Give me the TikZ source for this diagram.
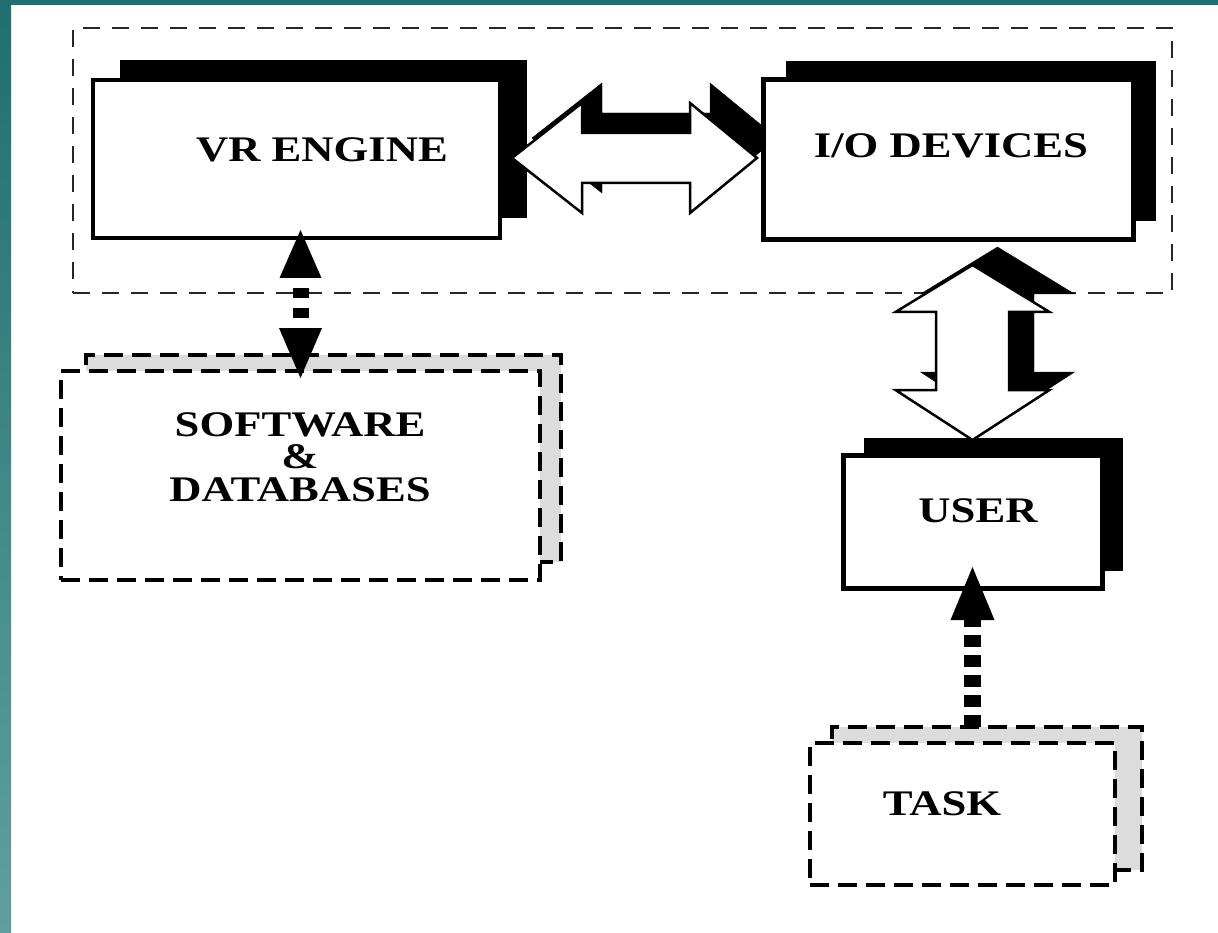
\documentclass[tikz,border=0pt]{standalone}
\usepackage{fontspec}
\newfontfamily\lblfont[FakeStretch=1.24]{Liberation Serif}
\usetikzlibrary{calc,arrows.meta}
\definecolor{tealA}{HTML}{1F6F6F}
\definecolor{tealB}{HTML}{5FA09E}
\definecolor{shgray}{HTML}{DCDCDC}
\begin{document}
\begin{tikzpicture}[x=1pt,y=-1pt,
  solidbox/.style={draw=black, fill=white, line width=4.5pt, inner sep=0pt, outer sep=0pt},
  blackshadow/.style={fill=black, inner sep=0pt, outer sep=0pt},
  dashbox/.style={draw=black, fill=white, line width=4pt, dash pattern=on 19pt off 9pt, inner sep=0pt, outer sep=0pt},
  grayshadow/.style={draw=black, fill=shgray, line width=4pt, dash pattern=on 19pt off 9pt, inner sep=0pt, outer sep=0pt},
  sysbox/.style={draw=black!85, line width=2pt, dash pattern=on 17pt off 12pt, inner sep=0pt, outer sep=0pt},
  lbl/.style={font=\lblfont\bfseries\fontsize{36}{32.5}\selectfont, align=center, inner sep=0pt},
  bigarrow/.style={draw=black, fill=white, line width=2.5pt, line join=miter},
  bigshadow/.style={fill=black},
  dotarrow/.style={line width=16pt, dash pattern=on 10pt off 10pt, dash phase=10pt,
    {Triangle[length=48pt,width=42pt,line width=0pt 0]}-{Triangle[length=50pt,width=43pt,line width=0pt 0]}},
  dotarrowb/.style={line width=17pt, dash pattern=on 12pt off 8pt,
    -{Triangle[length=53pt,width=44pt,line width=0pt 0]}},
]
\useasboundingbox (0,0) rectangle (1218,933);
\fill[white] (0,0) rectangle (1218,933);
\fill[tealA] (0,0) rectangle (1218,5);
\shade[top color=tealA, bottom color=tealB] (0,0) rectangle (11,933);

% system frame
\node[sysbox, minimum width=1099pt, minimum height=265pt] (sys) at (622.5,160.5) {};

% VR engine
\node[blackshadow, minimum width=407pt, minimum height=158pt] (vrsh) at (323.5,139) {};
\node[solidbox, minimum width=407pt, minimum height=158pt] (vr) at (296.5,159) {};
\node[lbl] (vrl) at (322,150) {VR ENGINE};

% horizontal double arrow
\draw[bigshadow, shift={(20,-20)}] (512,158) -- ++(70,-55) -- ++(0,30) -- ++(108,0) -- ++(0,-30) -- ++(67,55) -- ++(-67,55) -- ++(0,-30) -- ++(-108,0) -- ++(0,30) -- cycle;
\draw[bigarrow] (512,158) -- ++(70,-55) -- ++(0,30) -- ++(108,0) -- ++(0,-30) -- ++(67,55) -- ++(-67,55) -- ++(0,-30) -- ++(-108,0) -- ++(0,30) -- cycle;

% I/O devices
\node[blackshadow, minimum width=370pt, minimum height=160pt] (iosh) at (971,141) {};
\node[solidbox, line width=5pt, minimum width=370pt, minimum height=160pt] (io) at (948,160) {};
\node[lbl] (iol) at (951,146) {I/O DEVICES};

% user
\node[blackshadow, minimum width=259pt, minimum height=133pt] (usersh) at (993.5,504.5) {};
\node[solidbox, line width=5pt, minimum width=259pt, minimum height=133pt] (user) at (972.5,521.5) {};
\node[lbl] (userl) at (978,511) {USER};

% vertical double arrow
\draw[bigshadow, shift={(25,-18)}] (972.5,265) -- (1049.5,312) -- (1009,312) -- (1009,390) -- (1049.5,390) -- (972.5,440) -- (895.5,390) -- (936,390) -- (936,312) -- (895.5,312) -- cycle;
\draw[bigarrow] (972.5,265) -- (1049.5,312) -- (1009,312) -- (1009,390) -- (1049.5,390) -- (972.5,440) -- (895.5,390) -- (936,390) -- (936,312) -- (895.5,312) -- cycle;

% software & databases
\node[grayshadow, minimum width=475pt, minimum height=207pt] (swsh) at (323.5,458.5) {};
\node[dashbox, minimum width=479pt, minimum height=209pt] (sw) at (300.5,475.5) {};
\node[lbl] (swl) at (300,457) {SOFTWARE\\\&\\DATABASES};

% task
\node[grayshadow, minimum width=310pt, minimum height=143pt] (tasksh) at (987,798.5) {};
\node[dashbox, minimum width=305pt, minimum height=142pt] (task) at (962.5,814) {};
\node[lbl] (taskl) at (942,804) {TASK};

% dotted connectors
\draw[dotarrow, shorten <=-8pt, shorten >=-7pt] (sw.north |- vr.south) -- (sw.north);
\draw[dotarrowb, shorten >=-21pt] (tasksh.north -| user.south) -- (user.south);
\end{tikzpicture}
\end{document}
